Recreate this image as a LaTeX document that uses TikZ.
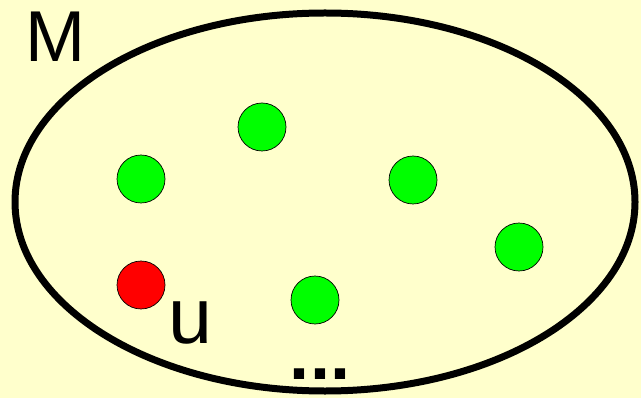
\documentclass[tikz,border=0pt]{standalone}
\usepackage{fontspec}
\setmainfont{Liberation Sans}
\usepackage{tikz}
\definecolor{paper}{HTML}{FFFFCC}
\definecolor{elemgreen}{HTML}{00FF00}
\definecolor{elemred}{HTML}{FF0000}

\begin{document}
\begin{tikzpicture}[
    x=0.02cm, y=-0.02cm,
    elem/.style={draw, circle, line width=0.4pt, minimum size=0.96cm, inner sep=0pt, fill=elemgreen},
    label/.style={inner sep=0pt, anchor=base}
]
\fill[paper] (0,0) rectangle (641,398);
\useasboundingbox (0,0) rectangle (641,398);

% the set M
\draw[line width=0.14cm] (325,202) ellipse [x radius=310, y radius=189];
\node[label, font=\fontsize{41}{41}\selectfont] (setname) at (56,62) {M};

% elements
\node[elem] (e1) at (262,127) {};
\node[elem] (e2) at (141,179) {};
\node[elem] (e3) at (413,180) {};
\node[elem] (e4) at (519,247) {};
\node[elem] (e5) at (315,300) {};
\node[elem, fill=elemred] (u) at (141,285) {};

\node[label, font=\fontsize{45}{45}\selectfont] (ulabel) at (190,343) {u};
\node[label, font=\fontsize{41}{41}\selectfont\bfseries] (more) at (320,379) {...};
\end{tikzpicture}
\end{document}
